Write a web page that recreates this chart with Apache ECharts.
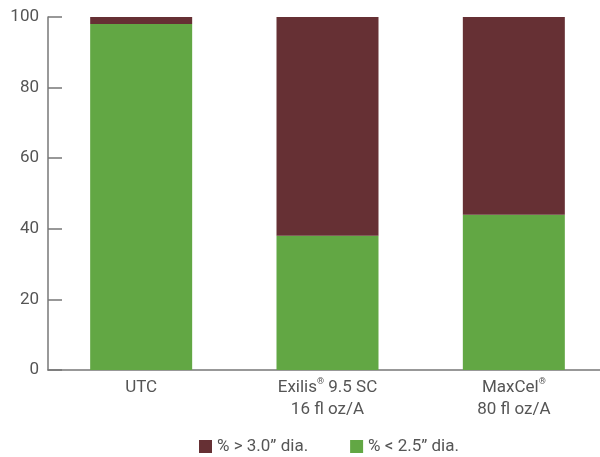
<!DOCTYPE html>
<html><head><meta charset="utf-8">
<script src="https://cdn.jsdelivr.net/npm/echarts@6/dist/echarts.min.js"></script>
<style>html,body{margin:0;padding:0;background:#fff;overflow:hidden;width:600px;height:457px}#c{width:620px;height:457px}</style>
</head><body><div id="c"></div>
<script>
const categories = ['UTC', 'Exilis® 9.5 SC\n16 fl oz/A', 'MaxCel®\n80 fl oz/A'];
const seriesNames = ['% > 3.0” dia.', '% < 2.5” dia.'];
const smallValues = [98, 38, 44];
const largeValues = [2, 62, 56];
const yTicks = [0, 20, 40, 60, 80, 100];

const FONT = '"Roboto", sans-serif';
const chart = echarts.init(document.getElementById('c'));
function fmtCat(v) {
  return v.split('\n').map(line => line.replace(/^(.*?)®(.*)$/, '$1{sup|®}$2')).join('\n');
}
chart.setOption({
  animation: false,
  grid: { left: 48, top: 17, width: 559, height: 353, containLabel: false },
  legend: {
    bottom: -3, left: 194, itemWidth: 13, itemHeight: 13, itemGap: 42,
    icon: 'rect',
    textStyle: { color: '#555', fontSize: 17, fontFamily: FONT },
    data: [seriesNames[0], seriesNames[1]]
  },
  xAxis: {
    type: 'category', data: categories,
    axisLine: { lineStyle: { color: '#777', width: 1.5 } },
    axisTick: { show: false },
    axisLabel: {
      interval: 0, hideOverlap: false,
      color: '#555', fontSize: 17, fontFamily: FONT, lineHeight: 22, margin: 7,
      formatter: fmtCat,
      rich: { sup: { fontSize: 9, verticalAlign: 'top', color: '#555', fontFamily: FONT, padding: [0, 0, 8, 0] } }
    }
  },
  yAxis: {
    type: 'value', min: yTicks[0], max: yTicks[yTicks.length - 1], interval: 20,
    axisLine: { show: true, lineStyle: { color: '#777', width: 1.5 } },
    axisTick: { show: true, inside: true, length: 14, lineStyle: { color: '#777', width: 1.5 } },
    splitLine: { show: false },
    axisLabel: { color: '#555', fontSize: 17, fontFamily: FONT, margin: 9 }
  },
  series: [
    { name: seriesNames[1], type: 'bar', stack: 's', data: smallValues, barWidth: 102, itemStyle: { color: '#62a744' } },
    { name: seriesNames[0], type: 'bar', stack: 's', data: largeValues, barWidth: 102, itemStyle: { color: '#663034' } }
  ]
});
</script></body></html>
